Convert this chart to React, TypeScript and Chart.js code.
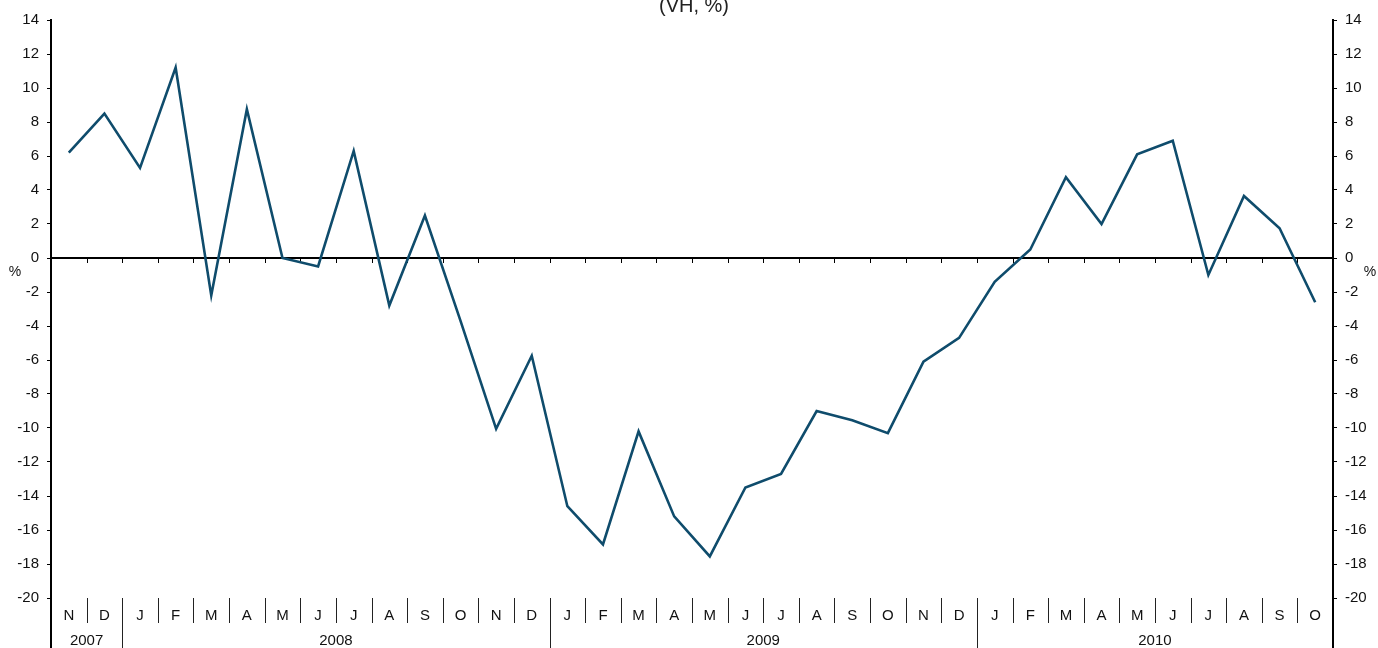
import React, { useEffect, useRef } from "react";
import { Chart, registerables } from "chart.js";

Chart.register(...registerables);

const months: string[] = [
  "N", "D",
  "J", "F", "M", "A", "M", "J", "J", "A", "S", "O", "N", "D",
  "J", "F", "M", "A", "M", "J", "J", "A", "S", "O", "N", "D",
  "J", "F", "M", "A", "M", "J", "J", "A", "S", "O",
];
const yearLabels: string[] = ["2007", "2008", "2009", "2010"];
const yearSpans: number[] = [2, 12, 12, 10];

const values: number[] = [
  6.2, 8.5,
  5.3, 11.2, -2.2, 8.75, 0.0, -0.5, 6.3, -2.8, 2.5, -3.7, -10.05, -5.75,
  -14.6, -16.85, -10.2, -15.2, -17.55, -13.5, -12.7, -9.0, -9.55, -10.3, -6.1, -4.7,
  -1.4, 0.5, 4.75, 2.0, 6.1, 6.9, -1.0, 3.65, 1.75, -2.6,
];

const yMin = -20;
const yMax = 14;
const yStep = 2;
const titleText = "(VH, %)";
const unitLabel = "%";

const FONT = "'Liberation Sans', Arial, sans-serif";

export default function App() {
  const ref = useRef<HTMLCanvasElement | null>(null);

  useEffect(() => {
    if (!ref.current) return;

    const decor = {
      id: "decor",
      beforeDatasetsDraw(chart: any) {
        const { ctx, chartArea, scales } = chart;
        const x = scales.x;
        const y = scales.y;
        const y0 = y.getPixelForValue(0);
        ctx.save();
        ctx.strokeStyle = "#000";
        ctx.lineWidth = 2;
        ctx.beginPath();
        ctx.moveTo(chartArea.left, y0);
        ctx.lineTo(chartArea.right, y0);
        ctx.stroke();
        ctx.lineWidth = 1;
        for (let i = 1; i < months.length; i++) {
          const b = Math.round((x.getPixelForValue(i - 1) + x.getPixelForValue(i)) / 2) + 0.5;
          ctx.beginPath();
          ctx.moveTo(b, y0);
          ctx.lineTo(b, y0 + 5);
          ctx.stroke();
        }
        ctx.restore();
      },
      afterDraw(chart: any) {
        const { ctx, chartArea, scales } = chart;
        const x = scales.x;
        const H = chart.height;
        const bottom = chartArea.bottom;
        const boundary = (i: number) => {
          if (i <= 0) return chartArea.left;
          if (i >= months.length) return chartArea.right;
          return (x.getPixelForValue(i - 1) + x.getPixelForValue(i)) / 2;
        };
        ctx.save();
        // axis extensions
        ctx.strokeStyle = "#000";
        ctx.lineWidth = 2;
        ctx.beginPath();
        ctx.moveTo(chartArea.left, bottom);
        ctx.lineTo(chartArea.left, H);
        ctx.moveTo(chartArea.right, bottom);
        ctx.lineTo(chartArea.right, H);
        ctx.stroke();

        // year starts
        const yearStarts: number[] = [];
        let acc = 0;
        for (const s of yearSpans) {
          yearStarts.push(acc);
          acc += s;
        }

        // month separators
        ctx.strokeStyle = "#222";
        ctx.lineWidth = 1;
        for (let i = 1; i < months.length; i++) {
          const b = Math.round(boundary(i)) + 0.5;
          const isYear = yearStarts.includes(i);
          ctx.beginPath();
          ctx.moveTo(b, bottom);
          ctx.lineTo(b, isYear ? H : bottom + 25);
          ctx.stroke();
        }

        // month labels
        ctx.fillStyle = "#111";
        ctx.font = `15px ${FONT}`;
        ctx.textAlign = "center";
        ctx.textBaseline = "middle";
        for (let i = 0; i < months.length; i++) {
          ctx.fillText(months[i], x.getPixelForValue(i), bottom + 18);
        }
        // year labels
        for (let k = 0; k < yearLabels.length; k++) {
          const s = yearStarts[k];
          const e = s + yearSpans[k];
          const cx = (boundary(s) + boundary(e)) / 2;
          ctx.fillText(yearLabels[k], cx, bottom + 43);
        }

        // unit labels
        const y0 = scales.y.getPixelForValue(0);
        ctx.font = `14px ${FONT}`;
        ctx.fillText(unitLabel, 15, y0 + 14);
        ctx.fillText(unitLabel, 1370, y0 + 14);

        // title
        ctx.font = `20px ${FONT}`;
        ctx.textBaseline = "alphabetic";
        ctx.fillStyle = "#222";
        ctx.fillText(titleText, 694, 12);
        ctx.restore();
      },
    };

    const tickOpts = {
      min: yMin,
      max: yMax,
      ticks: {
        stepSize: yStep,
        color: "#111",
        padding: 8,
        font: { family: FONT, size: 15 },
      },
      grid: {
        drawOnChartArea: false,
        drawTicks: true,
        tickLength: 4,
        color: "#000",
        lineWidth: 1,
      },
      border: { display: true, color: "#000", width: 2 },
    };

    const chart = new Chart(ref.current, {
      type: "line",
      data: {
        labels: months,
        datasets: [
          {
            data: values,
            borderColor: "#0f4c6c",
            borderWidth: 2.6,
            pointRadius: 0,
            tension: 0,
            fill: false,
          },
        ],
      },
      options: {
        responsive: false,
        animation: false,
        layout: { padding: { top: 20, bottom: 50, left: 0, right: 0 } },
        plugins: {
          legend: { display: false },
          title: { display: false },
          tooltip: { enabled: false },
        },
        scales: {
          x: { type: "category", offset: true, display: false },
          y: {
            ...tickOpts,
            position: "left",
            afterFit: (s: any) => {
              s.width = 51;
            },
          },
          y2: {
            ...tickOpts,
            position: "right",
            afterFit: (s: any) => {
              s.width = 45;
            },
          },
        },
      },
      plugins: [decor],
    } as any);

    return () => chart.destroy();
  }, []);

  return (
    <div style={{ position: "absolute", left: 0, top: 0, width: 1378, height: 648 }}>
      <canvas ref={ref} width={1378} height={648} />
    </div>
  );
}
